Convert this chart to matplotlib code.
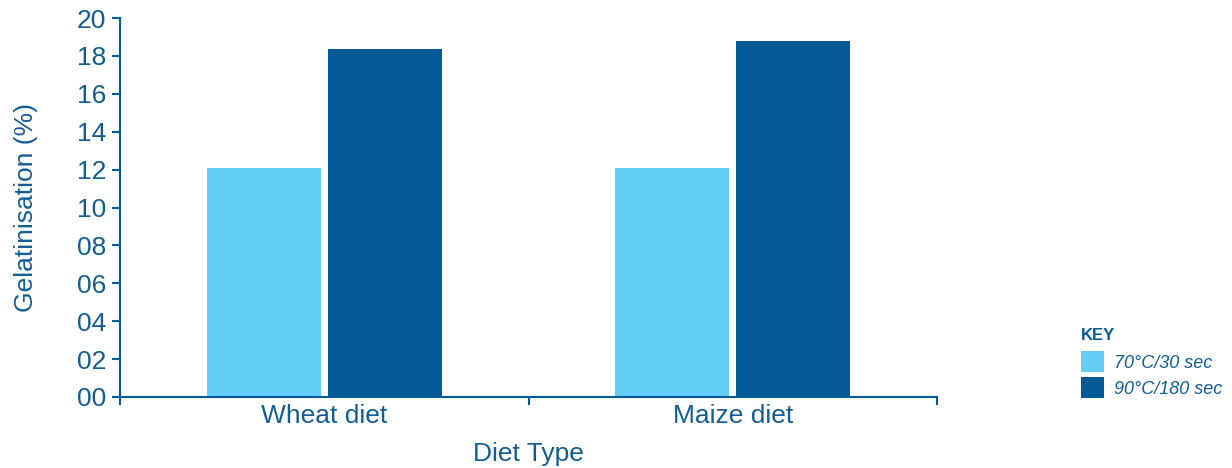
import matplotlib.pyplot as plt
import numpy as np

diets = ['Wheat diet', 'Maize diet']
low_temp = [12.1, 12.1]    # 70°C/30 sec
high_temp = [18.35, 18.8]  # 90°C/180 sec
series_labels = ['70°C/30 sec', '90°C/180 sec']
yticks = [0, 2, 4, 6, 8, 10, 12, 14, 16, 18, 20]

light = '#63cef5'
dark = '#035a96'
txt = '#125d94'

plt.rcParams['font.family'] = ['Liberation Sans', 'DejaVu Sans']

fig = plt.figure(figsize=(12.32, 4.68), dpi=100)
ax = fig.add_axes([120 / 1232, 71 / 468, 817 / 1232, 379 / 468])

x = np.arange(len(diets)) + 0.5
w = 0.279
b1 = ax.bar(x - 0.1485, low_temp, w, color=light, label=series_labels[0])
b2 = ax.bar(x + 0.1485, high_temp, w, color=dark, label=series_labels[1])

ax.set_xlim(0, 2)
ax.set_ylim(0, 20)
ax.set_yticks(yticks)
ax.set_yticklabels(['%02d' % v for v in yticks])
ax.set_xticks([0, 1, 2])
ax.set_xticklabels([])
ax.set_xticks(x, minor=True)
ax.set_xticklabels(diets, minor=True)
ax.tick_params(axis='x', which='minor', length=0, pad=5, labelsize=19, labelcolor=txt)
ax.tick_params(axis='x', which='major', length=6, width=1.5, color=dark, direction='out')
ax.tick_params(axis='y', length=6, width=1.5, color=dark, labelsize=19, labelcolor=txt, pad=4)

for s in ['top', 'right']:
    ax.spines[s].set_visible(False)
for s in ['left', 'bottom']:
    ax.spines[s].set_color(dark)
    ax.spines[s].set_linewidth(1.5)

ax.set_ylabel('Gelatinisation (%)', fontsize=19, color=txt, labelpad=28)
ax.set_xlabel('Diet Type', fontsize=19, color=txt, labelpad=10)

# key
fig.text(1081 / 1232, 1 - 340 / 468, 'KEY', fontsize=12, fontweight='bold', color=dark,
         ha='left', va='baseline')
leg = fig.legend(handles=[b1, b2], loc='upper left', bbox_to_anchor=(1081 / 1232, 1 - 351 / 468),
                 frameon=False, borderpad=0, borderaxespad=0,
                 prop={'style': 'italic', 'size': 13}, handlelength=1.25, handleheight=1.45,
                 handletextpad=0.55, labelspacing=0.25)
for t in leg.get_texts():
    t.set_color(txt)

fig.savefig('out.png', dpi=100)
